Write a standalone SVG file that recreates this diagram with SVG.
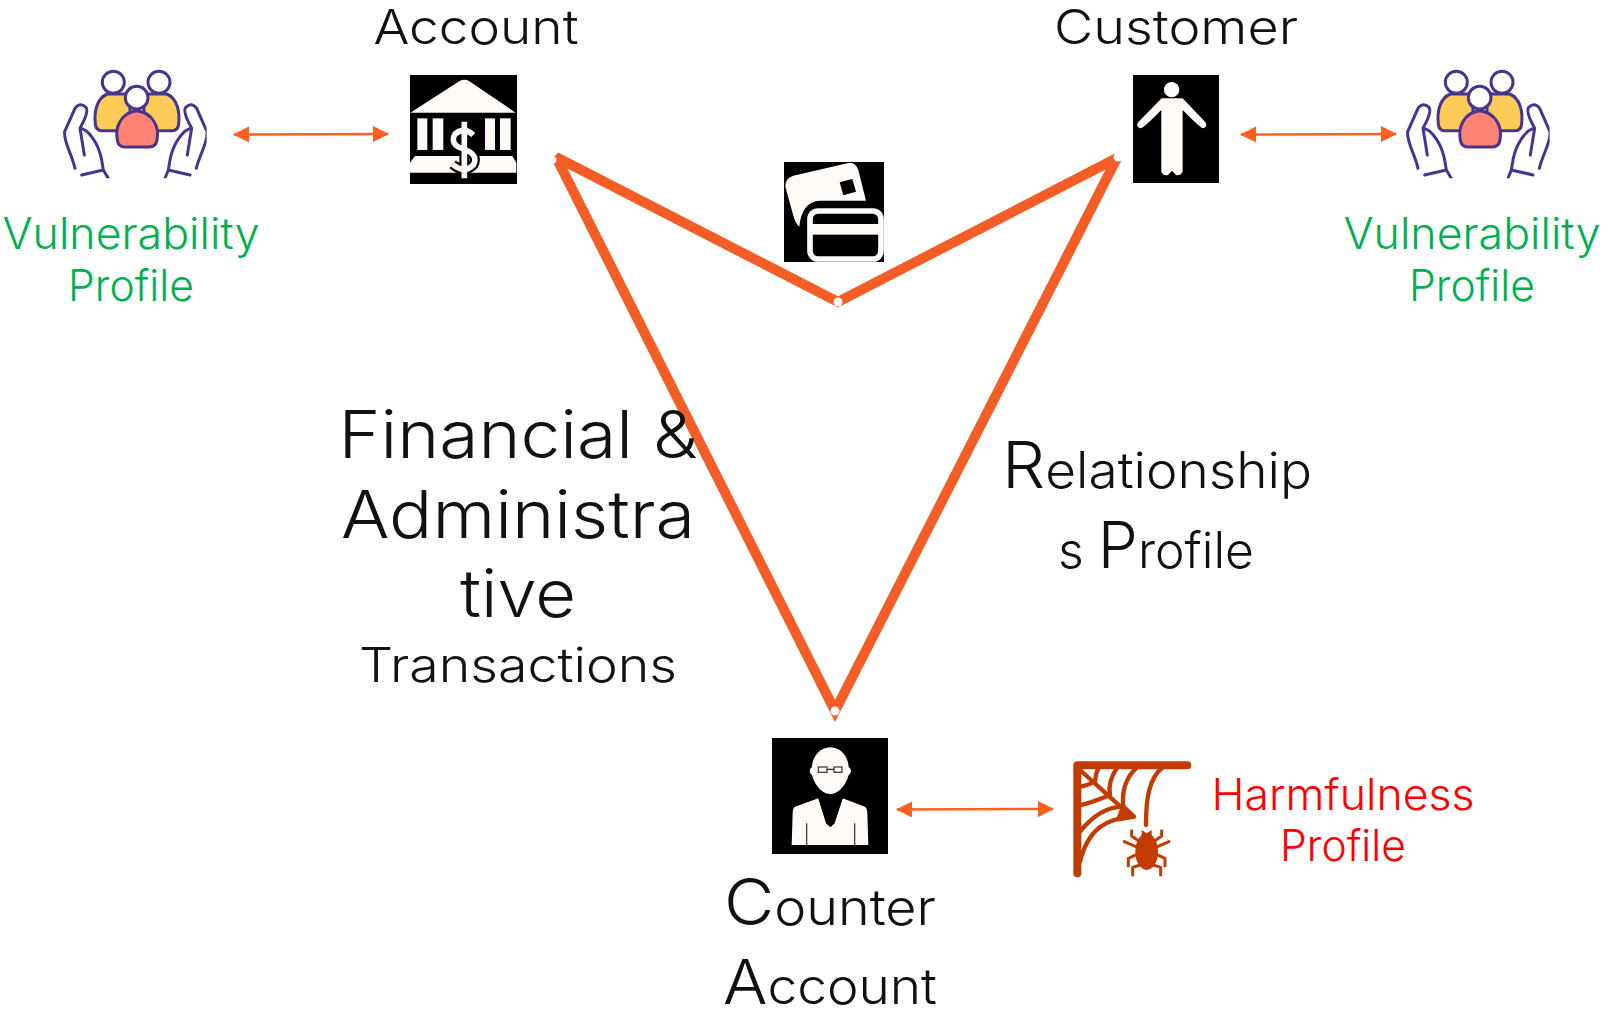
<svg xmlns="http://www.w3.org/2000/svg" xmlns:xlink="http://www.w3.org/1999/xlink" width="1613" height="1016" viewBox="0 0 1613 1016">
<style>
text{font-family:"Inter","Open Sans","Liberation Sans",sans-serif;font-weight:300;fill:#111;text-anchor:middle}
.g{fill:#00B050;font-size:43px}
.r{fill:#F00;font-size:43px}
.t{font-size:48px}
.b{font-size:66px}
.m{font-size:50px}
.w{fill:#FDFAF8}
.arrow{stroke:#FF5F1F;stroke-width:2.5;fill:none;marker-start:url(#ah);marker-end:url(#ah)}
.pl{fill:none;stroke:#46348E;stroke-width:9;stroke-linejoin:round;stroke-linecap:round}
.web{fill:none;stroke:#C23B00;stroke-width:13;stroke-linecap:round;stroke-linejoin:round}
</style>
<defs>
<marker id="ah" markerUnits="userSpaceOnUse" markerWidth="16" markerHeight="16" refX="15" refY="8" orient="auto-start-reverse"><path d="M0 0L16 8L0 16Z" fill="#FF5F1F"/></marker>
<clipPath id="pc"><path d="M70 85H530V535H70Z"/></clipPath>
<g id="people" clip-path="url(#pc)">
<path class="pl" d="M196 372C192 335 200 295 232 282L300 282L300 392H215Q198 392 196 372Z" style="fill:#FDCB58"/>
<path class="pl" d="M446 372C450 335 442 295 410 282L342 282L342 392H427Q444 392 446 372Z" style="fill:#FDCB58"/>
<circle class="pl" cx="250" cy="247" r="33" style="fill:#fff"/>
<circle class="pl" cx="387" cy="247" r="33" style="fill:#fff"/>
<path class="pl" d="M262 420C255 385 270 338 320 332C372 338 388 385 381 420Q378 441 358 441L284 441Q265 441 262 420Z" style="fill:#FE8373"/>
<circle class="pl" cx="320" cy="293" r="34" style="fill:#fff"/>
<path class="pl" d="M135 505C125 460 100 425 104 395L135 325Q150 305 168 322Q178 335 150 385L163 465M150 385C175 388 205 430 214 475L220 510M155 525L220 510L235 535"/>
<path class="pl" d="M499 505C510 460 535 425 531 395L500 325Q485 305 467 322Q457 335 485 385L472 465M485 385C460 388 430 430 421 475L415 510M480 525L415 510L405 535"/>
</g>
</defs>

<g id="connectors">
<path d="M556 157L838 302L1117 158L835 711Z" fill="none" stroke="#F45D25" stroke-width="10" stroke-linejoin="miter" stroke-miterlimit="2.500"/>
<circle cx="553" cy="160" r="3.500" fill="#fff"/><circle cx="838" cy="302" r="4.500" fill="#fff"/><circle cx="1118" cy="157" r="4.500" fill="#fff"/><circle cx="835" cy="711" r="4.500" fill="#fff"/>
<path class="arrow" d="M234 134.500L388 134"/>
<path class="arrow" d="M1241 134.500L1396 134"/>
<path class="arrow" d="M897 809.500L1053 809"/>
</g>

<g id="vuln-left">
<use xlink:href="#people" href="#people" transform="translate(30 0) scale(.3333)"/>
<text class="g" x="131" y="249" textLength="257" lengthAdjust="spacingAndGlyphs">Vulnerability</text>
<text class="g" x="131" y="301" textLength="126" lengthAdjust="spacingAndGlyphs">Profile</text>
</g>
<g id="vuln-right">
<use xlink:href="#people" href="#people" transform="translate(1373 0) scale(.3333)"/>
<text class="g" x="1472" y="249" textLength="257" lengthAdjust="spacingAndGlyphs">Vulnerability</text>
<text class="g" x="1472" y="301" textLength="126" lengthAdjust="spacingAndGlyphs">Profile</text>
</g>

<g id="account">
<text class="t" x="476" y="44" textLength="205" lengthAdjust="spacingAndGlyphs">Account</text>
<rect x="410" y="75" width="107" height="109"/>
<g transform="translate(405 70) scale(.3333)" class="w">
<path d="M165 32Q178 26 191 32L332 128H16Z"/>
<path d="M30 258H322L334 278V308H15V278Z"/>
<path d="M205 195Q178 170 150 192Q132 225 178 238Q222 255 205 285Q178 312 143 283M178 155V325" fill="none" stroke="#000" stroke-width="30"/>
<rect x="37" y="145" width="30" height="95"/><rect x="83" y="145" width="32" height="95"/><rect x="240" y="145" width="30" height="95"/><rect x="285" y="145" width="32" height="95"/>
<path d="M205 195Q178 170 150 192Q132 225 178 238Q222 255 205 285Q178 312 143 283M178 155V325" fill="none" stroke="#FDFAF8" stroke-width="17"/>
</g>
</g>

<g id="card">
<rect x="784" y="162" width="100" height="100"/>
<g transform="translate(760 60) scale(.3333)" class="w">
<path d="M100 347L265 309Q285 305 295 330L318 422L180 422Q125 425 118 500Q105 490 98 460L76 380Q75 355 100 347Z"/>
<path d="M239 367L277 357L288 395L250 406Z" fill="#000"/>
<rect x="150" y="453" width="213" height="144" rx="24" fill="none" stroke="#FDFAF8" stroke-width="17"/>
<rect x="150" y="492" width="213" height="32"/>
</g>
</g>

<g id="customer">
<text class="t" x="1176" y="44" textLength="244" lengthAdjust="spacingAndGlyphs">Customer</text>
<rect x="1133" y="75" width="86" height="108"/>
<g transform="translate(760 60) scale(.3333)" class="w">
<circle cx="1235" cy="89" r="23"/>
<path d="M1205 115H1268L1338 188Q1342 200 1330 205Q1322 205 1268 150V335Q1262 348 1248 345L1236 332L1224 345Q1210 348 1204 335V150Q1150 205 1142 205Q1128 200 1133 188Z"/>
</g>
</g>

<g id="counter-account">
<rect x="772" y="738" width="116" height="116"/>
<g transform="translate(750 690) scale(.3333)" class="w">
<path d="M241 172C275 172 296 205 296 232C305 235 305 250 296 255C285 295 260 312 241 312C222 312 197 295 186 255C177 250 177 235 186 232C186 205 207 172 241 172Z"/>
<path d="M205 325L135 350Q128 355 128 370L125 465H355L352 370Q352 355 345 350L278 325L254 400L241 412L228 400Z"/>
<path d="M205 325L230 400L234 350L226 328ZM278 325L252 400L248 350L256 328Z" fill="#000"/>
<path d="M229 327H253L247 345L253 385L241 402L229 385L235 345Z" fill="#000"/>
<g fill="none" stroke="#3a2520" stroke-width="3.500"><rect x="205" y="231" width="26" height="16"/><rect x="252" y="231" width="24" height="16"/><path d="M231 238H252M170 400V465M314 400V465"/></g>
</g>
<text class="m" x="830" y="925" textLength="212" lengthAdjust="spacingAndGlyphs"><tspan font-size="64">C</tspan>ounter</text>
<text class="m" x="830" y="1004" textLength="214" lengthAdjust="spacingAndGlyphs"><tspan font-size="62">A</tspan>ccount</text>
</g>

<g id="harmfulness">
<g transform="translate(1060 750) scale(.3333)">
<path class="web" style="stroke-width:24" d="M382 46H52V370"/>
<path class="web" d="M60 60L215 200M60 335C85 235 140 205 220 200M60 245C100 195 145 170 190 170M62 165C90 160 125 145 150 135M62 110Q85 105 105 95M228 55C195 85 185 130 190 170M170 55C150 85 145 110 150 135M115 55Q105 75 105 95M310 50C265 85 258 150 258 225"/>
<path class="web" style="fill:#C23B00" d="M190 170L222 200L175 208Z"/>
<ellipse cx="260" cy="305" rx="34" ry="55" fill="#C23B00"/>
<path d="M245 240V262H275V240L260 250Z" fill="#C23B00"/>
<path class="web" style="stroke-width:9" d="M232 270L215 258V242M288 270L305 258V242M228 290L193 275M292 290L327 275M228 315L205 325V348M292 315L315 325V348M240 345L218 352V375M280 345L302 352V375"/>
</g>
<text class="r" x="1343" y="810" textLength="263" lengthAdjust="spacingAndGlyphs">Harmfulness</text>
<text class="r" x="1343" y="861" textLength="126" lengthAdjust="spacingAndGlyphs">Profile</text>
</g>

<g id="financial-label">
<text class="b" x="518" y="458" textLength="359" lengthAdjust="spacingAndGlyphs">Financial &amp;</text>
<text class="b" x="518" y="538" textLength="354" lengthAdjust="spacingAndGlyphs">Administra</text>
<text class="b" x="518" y="617" textLength="116" lengthAdjust="spacingAndGlyphs">tive</text>
<text class="t" x="518" y="682" textLength="318" lengthAdjust="spacingAndGlyphs">Transactions</text>
</g>
<g id="relationship-label">
<text class="m" x="1157" y="488" textLength="310" lengthAdjust="spacingAndGlyphs"><tspan font-size="64">R</tspan>elationship</text>
<text class="m" x="1156" y="568" textLength="196" lengthAdjust="spacingAndGlyphs">s <tspan font-size="64">P</tspan>rofile</text>
</g>
</svg>
